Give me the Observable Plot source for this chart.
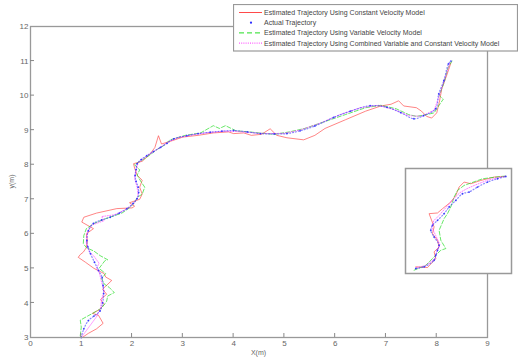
<!DOCTYPE html>
<html>
<head>
<meta charset="utf-8">
<script src="https://cdn.jsdelivr.net/npm/d3@7"></script>
<script src="https://cdn.jsdelivr.net/npm/@observablehq/plot@0.6"></script>
<style>
  body { margin: 0; background: #fff; font-family: "Liberation Sans", Arial, sans-serif; }
  #wrap { position: relative; width: 518px; height: 360px; overflow: hidden; }
  #wrap > * { position: absolute; }
</style>
</head>
<body>
<div id="wrap"></div>
<script>
// ---- main chart data (metres) ----
const actualX = [1.00,1.05,1.14,1.25,1.37,1.42,1.44,1.43,1.41,1.34,1.26,1.18,1.13,1.11,1.14,1.24,1.40,1.57,1.75,1.90,2.02,2.10,2.13,2.12,2.08,2.06,2.08,2.10,2.18,2.29,2.42,2.56,2.69,2.82,3.08,3.30,3.54,3.77,4.00,4.27,4.53,4.80,5.05,5.31,5.60,5.97,6.30,6.69,7.02,7.29,7.55,7.74,7.98,8.04,8.14,8.23,8.28];
const actualY = [3.00,3.25,3.49,3.62,3.77,4.00,4.27,4.50,4.74,4.94,5.18,5.43,5.62,5.80,6.09,6.30,6.40,6.48,6.60,6.73,6.88,7.02,7.20,7.35,7.52,7.69,7.86,8.03,8.15,8.26,8.38,8.50,8.62,8.75,8.84,8.90,8.94,8.97,8.99,8.95,8.90,8.89,8.90,8.98,9.12,9.37,9.55,9.71,9.66,9.51,9.33,9.42,9.62,10.05,10.43,10.92,11.00];

const constX = [1.02,1.14,1.30,1.43,1.34,1.22,1.35,1.45,1.38,1.50,1.42,1.60,1.48,1.45,1.25,1.08,0.94,0.98,1.04,1.10,1.12,1.10,1.24,1.01,1.05,1.30,1.70,2.00,2.05,1.95,2.15,2.20,2.15,2.20,2.10,2.05,2.03,2.20,2.35,2.45,2.52,2.58,2.80,3.00,3.30,3.60,3.90,4.00,4.20,4.35,4.55,4.72,4.85,5.05,5.38,5.60,5.80,6.20,6.60,6.90,7.10,7.25,7.35,7.60,7.70,7.80,7.90,8.00,8.05,8.10,8.20,8.28];
const constY = [3.00,3.12,3.25,3.41,3.64,3.70,3.80,3.95,4.10,4.25,4.40,4.65,4.75,4.85,5.00,5.18,5.32,5.40,5.47,5.60,5.80,6.00,6.15,6.34,6.48,6.60,6.73,6.75,6.80,6.90,7.00,7.15,7.35,7.55,7.70,7.90,8.03,8.10,8.30,8.50,8.84,8.60,8.70,8.80,8.85,8.92,8.95,8.90,8.92,8.85,8.88,9.04,8.85,8.78,8.72,8.85,9.05,9.30,9.55,9.70,9.75,9.85,9.70,9.65,9.55,9.40,9.35,9.50,9.80,10.20,10.60,10.95];

const varX = [0.98,1.00,0.98,1.10,1.25,1.40,1.50,1.52,1.65,1.55,1.45,1.40,1.48,1.35,1.47,1.52,1.37,1.25,1.10,1.04,1.05,1.10,1.25,1.50,1.80,1.95,2.05,2.10,2.20,2.25,2.18,2.10,2.15,2.05,2.22,2.35,2.50,2.62,2.75,3.05,3.35,3.60,3.72,3.84,4.05,4.30,4.50,4.80,5.10,5.40,5.80,6.20,6.60,6.90,7.20,7.45,7.60,7.80,7.95,8.00,8.13,8.05,8.15,8.22,8.30];
const varY = [3.05,3.30,3.50,3.60,3.72,3.85,4.05,4.20,4.30,4.45,4.55,4.70,4.85,5.00,5.23,5.25,5.37,5.50,5.60,5.72,5.95,6.15,6.30,6.45,6.60,6.75,6.90,7.05,7.15,7.35,7.50,7.70,7.85,8.00,8.15,8.28,8.45,8.55,8.72,8.85,8.92,9.13,9.05,9.13,8.98,8.95,8.92,8.88,8.95,9.05,9.25,9.45,9.65,9.72,9.62,9.45,9.40,9.45,9.50,9.62,9.90,10.00,10.40,10.80,11.00];

const combX = [1.00,1.10,1.20,1.30,1.38,1.40,1.45,1.40,1.36,1.30,1.35,1.25,1.15,1.10,1.12,1.20,1.45,1.40,1.65,1.90,2.05,2.12,2.10,2.05,2.08,2.12,2.28,2.50,2.70,2.90,3.20,3.50,3.80,4.10,4.40,4.70,5.00,5.30,5.70,6.10,6.50,6.85,7.15,7.45,7.70,7.95,8.05,8.15,8.26];
const combY = [3.00,3.20,3.40,3.60,3.85,4.10,4.35,4.60,4.85,5.00,5.15,5.35,5.50,5.75,6.05,6.25,6.38,6.50,6.55,6.72,6.90,7.10,7.35,7.60,7.85,8.05,8.25,8.45,8.65,8.78,8.87,8.93,8.97,8.96,8.92,8.90,8.91,9.00,9.20,9.45,9.65,9.72,9.60,9.42,9.40,9.58,10.00,10.45,10.95];

// ---- inset data (arbitrary units) ----
const inActX = [1.5,2.33,3.33,3.5,3.67,3.83,3.33,3.0,3.17,3.67,4.33,4.83,5.5,6.17,6.83,7.67,8.67,9.67,10.5];
const inActY = [0.5,0.67,1.33,1.83,2.33,2.83,3.67,4.33,4.83,5.33,6.0,6.67,7.33,8.0,8.17,8.67,9.17,9.5,9.73];
const inConX = [1.5,2.67,3.5,3.33,3.83,3.67,3.17,3.33,2.83,3.67,4.17,5.0,5.5,5.83,6.33,7.0,8.0,9.33,10.5];
const inConY = [0.67,0.6,1.5,2.17,2.67,3.33,4.0,4.67,6.0,6.07,6.5,7.17,7.83,8.67,9.17,9.0,9.33,9.67,9.73];
const inVarX = [1.33,2.5,3.33,4.0,4.5,4.0,3.83,4.33,4.67,5.0,5.33,5.67,6.33,8.17,10.0,10.5];
const inVarY = [0.33,0.83,1.67,2.33,2.5,3.33,4.33,5.5,6.0,6.67,7.67,8.33,8.83,9.5,9.73,9.77];
const inComX = [1.6,2.5,3.4,3.6,3.9,3.5,3.1,3.3,3.9,4.5,5.2,5.9,6.6,7.5,8.8,10.4];
const inComY = [0.6,0.8,1.5,2.2,2.9,3.8,4.6,5.3,5.9,6.6,7.4,8.1,8.5,8.9,9.4,9.75];

// ---- axes / labels ----
const xTicks = [0,1,2,3,4,5,6,7,8,9];
const yTicks = [3,4,5,6,7,8,9,10,11,12];
const xLabel = "X(m)";
const yLabel = "y(m)";
const legendLabels = [
  "Estimated Trajectory Using Constant Velocity Model",
  "Actual Trajectory",
  "Estimated Trajectory Using Variable Velocity Model",
  "Estimated Trajectory Using Combined Variable and Constant Velocity Model"
];

const zip = (xs, ys) => xs.map((x, i) => ({x, y: ys[i]}));
const actual = zip(actualX, actualY), cons = zip(constX, constY), vari = zip(varX, varY), comb = zip(combX, combY);

const RED = "#ff4a4a", BLUE = "#2a2aff", GREEN = "#22dd22", MAG = "#ff33ff", FRAME = "#999";

function traceMarks(a, c, v, m, w) {
  return [
    Plot.line(c, {x: "x", y: "y", stroke: RED, strokeWidth: w, strokeOpacity: 0.85}),
    Plot.line(v, {x: "x", y: "y", stroke: GREEN, strokeWidth: w, strokeOpacity: 0.85, strokeDasharray: "4,2"}),
    Plot.line(m, {x: "x", y: "y", stroke: MAG, strokeWidth: w, strokeOpacity: 0.8, strokeDasharray: "1,1.5"}),
    Plot.line(a, {x: "x", y: "y", stroke: BLUE, strokeWidth: 1.2, strokeDasharray: "1,2", strokeOpacity: 0.55, curve: "catmull-rom"}),
    Plot.dot(a, {x: "x", y: "y", r: 0.9, fill: BLUE, fillOpacity: 0.85, stroke: "none"})
  ];
}

const main = Plot.plot({
  width: 518, height: 360,
  marginLeft: 30, marginRight: 31, marginTop: 26, marginBottom: 23,
  style: {fontFamily: "Liberation Sans, Arial, sans-serif", background: "transparent", overflow: "visible"},
  x: {type: "linear", domain: [0, 9]},
  y: {type: "linear", domain: [3, 12]},
  marks: [
    ...traceMarks(actual, cons, vari, comb, 0.8),
    Plot.axisX(xTicks, {anchor: "bottom", tickSize: 0, tickPadding: 3, fontSize: 8, fill: "#666", label: null}),
    Plot.axisY(yTicks, {anchor: "left", tickSize: 0, tickPadding: 2, fontSize: 8, fill: "#666", label: null}),
    Plot.frame({stroke: FRAME, strokeWidth: 1.3})
  ]
});
document.getElementById("wrap").appendChild(main);

// inward tick marks positioned by the library's own scales
const sx = main.scale("x"), sy = main.scale("y");
const svg = d3.select(main);
const tg = svg.append("g").attr("stroke", "#888").attr("stroke-width", 1);
xTicks.slice(1, -1).forEach(t => {
  const px = sx.apply(t), py = sy.apply(3);
  tg.append("line").attr("x1", px).attr("x2", px).attr("y1", py).attr("y2", py - 4);
});
yTicks.slice(1, -1).forEach(t => {
  const px = sx.apply(0), py = sy.apply(t);
  tg.append("line").attr("x1", px).attr("x2", px + 4).attr("y1", py).attr("y2", py);
});
svg.append("text").attr("x", (sx.apply(0) + sx.apply(9)) / 2).attr("y", 355)
  .attr("text-anchor", "middle").attr("font-size", 7).attr("fill", "#666").text(xLabel);
svg.append("text").attr("transform", `translate(14,${(sy.apply(3) + sy.apply(12)) / 2}) rotate(-90)`)
  .attr("text-anchor", "middle").attr("font-size", 7).attr("fill", "#666").text(yLabel);

// ---- inset ----
const inset = Plot.plot({
  width: 106, height: 105, margin: 0,
  style: {background: "#fff", overflow: "visible"},
  x: {type: "linear", domain: [0.47, 11.07], axis: null},
  y: {type: "linear", domain: [0, 10.53], axis: null},
  marks: [
    ...traceMarks(zip(inActX, inActY), zip(inConX, inConY), zip(inVarX, inVarY), zip(inComX, inComY), 0.8),
    Plot.frame({stroke: FRAME, strokeWidth: 1.5})
  ]
});
inset.style.left = "405px"; inset.style.top = "168px";
document.getElementById("wrap").appendChild(inset);

// ---- legend ----
const lg = d3.select("#wrap").append("svg")
  .attr("width", 285).attr("height", 48)
  .style("left", "233px").style("top", "4px");
lg.append("rect").attr("x", 0.5).attr("y", 0.5).attr("width", 284).attr("height", 46.5)
  .attr("fill", "#fff").attr("stroke", FRAME).attr("stroke-width", 1.2);
const styles = [
  {stroke: RED, dash: null},
  {dot: true},
  {stroke: GREEN, dash: "5,3"},
  {stroke: MAG, dash: "1,1.2"}
];
legendLabels.forEach((lab, i) => {
  const y = 8.5 + i * 10.2;
  const s = styles[i];
  if (s.dot) {
    lg.append("circle").attr("cx", 18).attr("cy", y).attr("r", 1.1).attr("fill", BLUE);
  } else {
    lg.append("line").attr("x1", 6).attr("x2", 29).attr("y1", y).attr("y2", y)
      .attr("stroke", s.stroke).attr("stroke-width", 1).attr("stroke-dasharray", s.dash);
  }
  lg.append("text").attr("x", 31).attr("y", y + 2.4).attr("font-size", 7)
    .attr("font-family", "Liberation Sans, Arial, sans-serif").attr("fill", "#444").text(lab);
});
</script>
</body>
</html>
